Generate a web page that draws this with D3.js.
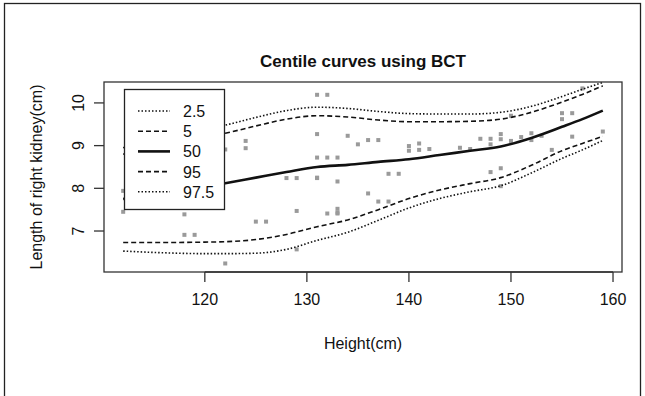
<!DOCTYPE html>
<html>
<head>
<meta charset="utf-8">
<title>Centile curves using BCT</title>
<script src="https://d3js.org/d3.v7.min.js"></script>
<style>
  body { margin: 0; background: #fff; }
  text { font-family: 'Liberation Sans', Arial, sans-serif; fill: #111; }
</style>
</head>
<body>
<script>
// centile curves, height (cm) -> kidney length (cm)
var heights = [112, 116, 120, 122, 125, 128, 131, 134, 137, 140, 143, 146, 149, 152, 155, 157, 159];
var c2_5  = [6.53, 6.49, 6.47, 6.47, 6.48, 6.57, 6.78, 6.97, 7.25, 7.54, 7.76, 7.92, 8.06, 8.36, 8.70, 8.90, 9.12];
var c5    = [6.73, 6.73, 6.74, 6.75, 6.80, 6.92, 7.10, 7.26, 7.50, 7.76, 7.96, 8.11, 8.25, 8.54, 8.88, 9.05, 9.22];
var c50   = [7.75, 7.90, 8.04, 8.12, 8.25, 8.38, 8.50, 8.55, 8.62, 8.68, 8.78, 8.88, 8.98, 9.18, 9.44, 9.62, 9.82];
var c95   = [8.80, 9.02, 9.20, 9.29, 9.46, 9.62, 9.70, 9.67, 9.60, 9.56, 9.56, 9.57, 9.62, 9.78, 10.02, 10.20, 10.40];
var c97_5 = [8.95, 9.20, 9.38, 9.48, 9.66, 9.82, 9.90, 9.87, 9.80, 9.75, 9.74, 9.74, 9.78, 9.92, 10.15, 10.32, 10.48];

// observations
var obsH = [112, 112, 118, 118, 119, 122, 122, 124, 124, 125, 126, 128, 129, 129, 129, 131, 131, 131, 131, 131,
            132, 132, 132, 133, 133, 133, 133, 133, 134, 135, 136, 136, 137, 137, 138, 138, 139, 140, 140, 141, 141,
            142, 145, 146, 147, 148, 148, 148, 149, 149, 149, 149, 150, 150, 151, 152, 152, 153, 154, 155, 155,
            156, 156, 157, 159];
var obsL = [7.94, 7.45, 7.39, 6.91, 6.91, 8.91, 6.24, 9.11, 8.94, 7.22, 7.22, 8.24, 8.24, 7.47, 6.57, 10.19, 9.27, 8.72, 8.24, 8.25,
            10.19, 8.72, 7.41, 8.72, 8.16, 7.52, 7.43, 7.41, 9.23, 9.03, 9.13, 7.88, 9.13, 7.69, 7.69, 8.34, 8.34, 8.99, 8.88, 9.05, 8.90,
            8.92, 8.95, 8.92, 9.16, 9.16, 9.03, 8.38, 9.27, 9.15, 8.47, 8.05, 9.11, 9.70, 9.20, 9.29, 9.13, 9.23, 8.90, 9.76, 9.62,
            9.76, 9.21, 10.34, 9.33];

var xTicks = [120, 130, 140, 150, 160];
var yTicks = [7, 8, 9, 10];
var legendLabels = ["2.5", "5", "50", "95", "97.5"];

var W = 645, H = 396;
var box = {left: 104, right: 622, top: 82, bottom: 272};

var svg = d3.select("body").append("svg")
    .attr("width", W)
    .attr("height", H);

// outer frame
svg.append("rect")
    .attr("x", 4.5).attr("y", 3.5)
    .attr("width", 636).attr("height", 420)
    .attr("fill", "none")
    .attr("stroke", "#222")
    .attr("stroke-width", 1.3);

var xPad = (d3.max(obsH) - d3.min(obsH)) * 0.04;
var x = d3.scaleLinear()
    .domain([d3.min(obsH) - xPad, d3.max(obsH) + xPad])
    .range([box.left, box.right]);
var y = d3.scaleLinear()
    .domain([6.04, 10.49])
    .range([box.bottom, box.top]);

svg.append("clipPath").attr("id", "plotclip")
  .append("rect")
    .attr("x", box.left).attr("y", box.top)
    .attr("width", box.right - box.left).attr("height", box.bottom - box.top);

var plot = svg.append("g").attr("clip-path", "url(#plotclip)");

// points
plot.append("g").selectAll("rect")
    .data(obsH.map(function(h, i) { return [h, obsL[i]]; }))
    .enter().append("rect")
    .attr("x", function(d) { return x(d[0]) - 2; })
    .attr("y", function(d) { return y(d[1]) - 2; })
    .attr("width", 4).attr("height", 4)
    .attr("fill", "#9a9a9a");

// curves
var curves = [
  {vals: c2_5, dash: "1.5,2", w: 1.6},
  {vals: c5, dash: "5,3", w: 1.6},
  {vals: c50, dash: null, w: 2.6},
  {vals: c95, dash: "5,3", w: 1.6},
  {vals: c97_5, dash: "1.5,2", w: 1.6}
];
var line = d3.line()
    .x(function(d) { return x(d[0]); })
    .y(function(d) { return y(d[1]); })
    .curve(d3.curveMonotoneX);

curves.forEach(function(c) {
  plot.append("path")
      .datum(heights.map(function(h, i) { return [h, c.vals[i]]; }))
      .attr("d", line)
      .attr("fill", "none")
      .attr("stroke", "#111")
      .attr("stroke-width", c.w)
      .attr("stroke-dasharray", c.dash);
});

// plot box
svg.append("rect")
    .attr("x", box.left).attr("y", box.top)
    .attr("width", box.right - box.left).attr("height", box.bottom - box.top)
    .attr("fill", "none")
    .attr("stroke", "#333")
    .attr("stroke-width", 1.3);

// x axis
var xAxis = svg.append("g");
xAxis.append("line")
    .attr("x1", x(xTicks[0])).attr("x2", x(xTicks[xTicks.length - 1]))
    .attr("y1", box.bottom).attr("y2", box.bottom)
    .attr("stroke", "#333").attr("stroke-width", 1.3);
xAxis.selectAll(".tk").data(xTicks).enter().append("line")
    .attr("x1", function(d) { return x(d); }).attr("x2", function(d) { return x(d); })
    .attr("y1", box.bottom).attr("y2", box.bottom + 10)
    .attr("stroke", "#333").attr("stroke-width", 1.3);
xAxis.selectAll("text").data(xTicks).enter().append("text")
    .attr("x", function(d) { return x(d); })
    .attr("y", 305)
    .attr("text-anchor", "middle")
    .attr("font-size", 16)
    .text(function(d) { return d; });

// y axis
var yAxis = svg.append("g");
yAxis.selectAll(".tk").data(yTicks).enter().append("line")
    .attr("x1", box.left - 10).attr("x2", box.left)
    .attr("y1", function(d) { return y(d); }).attr("y2", function(d) { return y(d); })
    .attr("stroke", "#333").attr("stroke-width", 1.3);
yAxis.selectAll("text").data(yTicks).enter().append("text")
    .attr("transform", function(d) { return "translate(84," + y(d) + ") rotate(-90)"; })
    .attr("text-anchor", "middle")
    .attr("font-size", 16)
    .text(function(d) { return d; });

// titles
svg.append("text")
    .attr("x", (box.left + box.right) / 2).attr("y", 67)
    .attr("text-anchor", "middle")
    .attr("font-size", 17)
    .attr("font-weight", "bold")
    .text("Centile curves using BCT");

svg.append("text")
    .attr("x", (box.left + box.right) / 2).attr("y", 349)
    .attr("text-anchor", "middle")
    .attr("font-size", 16)
    .text("Height(cm)");

svg.append("text")
    .attr("transform", "translate(42," + (box.top + box.bottom) / 2 + ") rotate(-90)")
    .attr("text-anchor", "middle")
    .attr("font-size", 16)
    .text("Length of right kidney(cm)");

// legend
var lg = svg.append("g");
lg.append("rect")
    .attr("x", 124.5).attr("y", 89.5)
    .attr("width", 100).attr("height", 120)
    .attr("fill", "#fff")
    .attr("stroke", "#222")
    .attr("stroke-width", 1.3);
var rows = lg.selectAll(".row").data(legendLabels).enter().append("g")
    .attr("transform", function(d, i) { return "translate(0," + (111 + i * 20.2) + ")"; });
rows.append("line")
    .attr("x1", 138).attr("x2", 170)
    .attr("y1", 0).attr("y2", 0)
    .attr("stroke", "#111")
    .attr("stroke-width", function(d, i) { return curves[i].w; })
    .attr("stroke-dasharray", function(d, i) { return curves[i].dash; });
rows.append("text")
    .attr("x", 183).attr("y", 6)
    .attr("font-size", 16)
    .text(function(d) { return d; });
</script>
</body>
</html>
